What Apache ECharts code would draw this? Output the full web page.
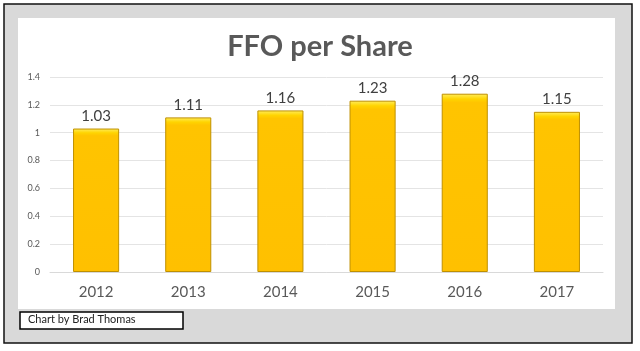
<!DOCTYPE html>
<html>
<head>
<meta charset="utf-8">
<script src="https://cdn.jsdelivr.net/npm/echarts@6/dist/echarts.min.js"></script>
<style>
    html, body { margin: 0; padding: 0; background: #fff; }
    #main { width: 640px; height: 351px; }
</style>
</head>
<body>
<div id="main"></div>
<script>
    // data
    var years = ['2012', '2013', '2014', '2015', '2016', '2017'];
    var ffo = [1.03, 1.11, 1.16, 1.23, 1.28, 1.15];
    var titleText = 'FFO per Share';
    var creditText = 'Chart by Brad Thomas';

    var myChart = echarts.init(document.getElementById('main'));

    var option = {
        animation: false,
        backgroundColor: '#fff',
        textStyle: { fontFamily: 'Lato' },
        title: {
            text: titleText,
            left: 'center',
            top: 27,
            textStyle: {
                fontFamily: 'Lato',
                fontSize: 29,
                fontWeight: 'bold',
                color: '#595959'
            }
        },
        grid: {
            left: 50,
            right: 37,
            top: 77,
            bottom: 79
        },
        xAxis: {
            type: 'category',
            data: years,
            axisTick: { show: false },
            axisLine: { lineStyle: { color: '#d9d9d9' } },
            axisLabel: {
                fontSize: 15,
                color: '#595959',
                margin: 13
            }
        },
        yAxis: {
            type: 'value',
            min: 0,
            max: 1.4,
            interval: 0.2,
            axisLine: { show: false },
            axisTick: { show: false },
            splitLine: { lineStyle: { color: '#e4e4e4' } },
            axisLabel: {
                fontSize: 9,
                color: '#595959',
                margin: 10
            }
        },
        graphic: [
            {
                type: 'rect',
                z: -10,
                shape: { x: 4, y: 4, width: 628, height: 339 },
                style: { fill: '#d9d9d9', stroke: '#111', lineWidth: 1.5 }
            },
            {
                type: 'rect',
                z: -9,
                shape: { x: 18, y: 18, width: 597, height: 291 },
                style: { fill: '#fff' }
            },
            {
                type: 'rect',
                z: 5,
                shape: { x: 20, y: 312, width: 163, height: 17 },
                style: { fill: '#fff', stroke: '#000', lineWidth: 1.5 }
            },
            {
                type: 'text',
                z: 6,
                left: 28,
                top: 314,
                style: {
                    text: creditText,
                    fontFamily: 'Lato',
                    fontSize: 11,
                    fill: '#222'
                }
            }
        ],
        series: [
            {
                name: 'FFO',
                type: 'bar',
                data: ffo,
                barWidth: '50%',
                itemStyle: {
                    color: new echarts.graphic.LinearGradient(0, 0, 0, 1, [
                        { offset: 0, color: '#FFEE60' },
                        { offset: 0.03, color: '#FFD400' },
                        { offset: 0.05, color: '#FFC400' },
                        { offset: 1, color: '#FFC000' }
                    ]),
                    borderColor: '#BF9000',
                    borderWidth: 1
                },
                label: {
                    show: true,
                    position: 'top',
                    distance: 5,
                    fontSize: 15,
                    color: '#404040'
                }
            }
        ]
    };

    myChart.setOption(option);
</script>
</body>
</html>
